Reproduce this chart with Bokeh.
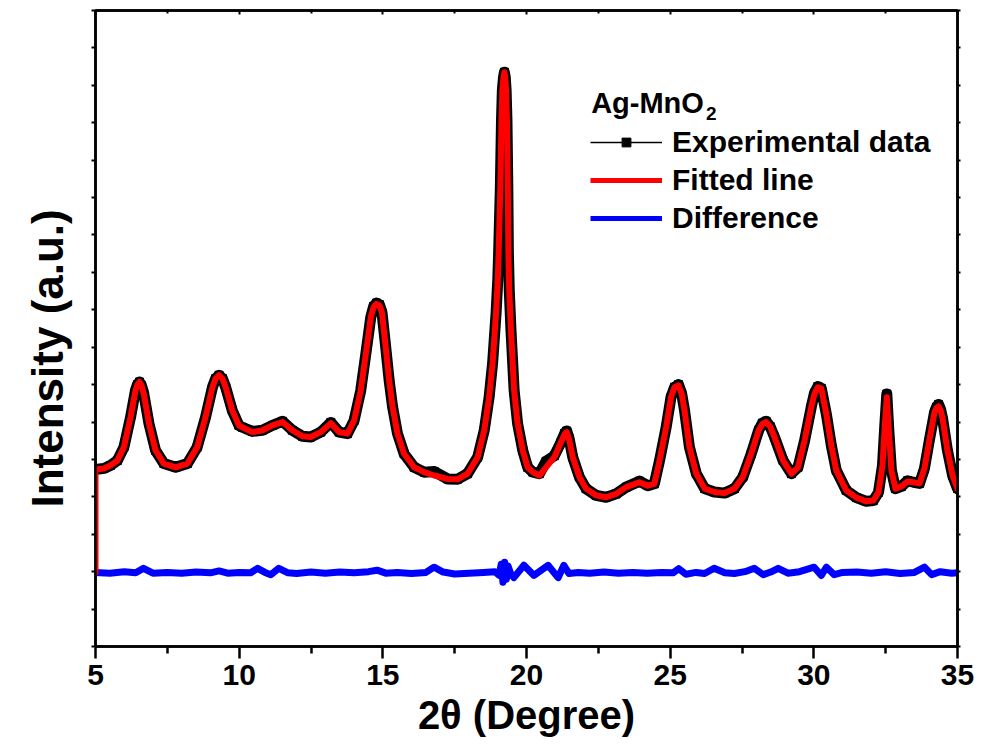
from bokeh.plotting import figure
from bokeh.models import Range1d, LinearAxis, FixedTicker, Legend, LegendItem, Label, Title
from bokeh.embed import file_html
from bokeh.resources import INLINE

# ---------------- data ----------------
two_theta = [5.00, 5.29, 5.52, 5.76, 5.99, 6.22, 6.39, 6.46, 6.53, 6.60,
             6.68, 6.86, 7.09, 7.38, 7.79, 8.20, 8.54, 8.83, 9.07, 9.18,
             9.30, 9.42, 9.53, 9.76, 9.99, 10.11, 10.46, 10.81, 11.16, 11.51,
             11.85, 12.20, 12.49, 12.84, 13.19, 13.48, 13.77, 14.00, 14.23, 14.41,
             14.58, 14.68, 14.78, 14.88, 14.97, 15.10, 15.22, 15.34, 15.51, 15.74,
             16.09, 16.44, 16.79, 17.25, 17.60, 17.95, 18.30, 18.53, 18.70, 18.82,
             18.94, 19.00, 19.03, 19.09, 19.13, 19.16, 19.20, 19.23, 19.26, 19.29,
             19.32, 19.35, 19.37, 19.40, 19.46, 19.57, 19.69, 19.87, 20.04, 20.22,
             20.45, 20.68, 20.97, 21.20, 21.33, 21.40, 21.48, 21.61, 21.84, 22.07,
             22.42, 22.77, 23.12, 23.47, 23.93, 24.22, 24.45, 24.63, 24.86, 25.03,
             25.15, 25.29, 25.40, 25.50, 25.67, 25.91, 26.20, 26.54, 26.89, 27.24,
             27.53, 27.82, 28.08, 28.21, 28.34, 28.48, 28.63, 28.93, 29.22, 29.45,
             29.68, 29.91, 30.02, 30.14, 30.26, 30.44, 30.61, 30.78, 31.13, 31.48,
             31.83, 32.07, 32.25, 32.39, 32.47, 32.54, 32.61, 32.70, 32.84, 33.05,
             33.26, 33.47, 33.68, 33.85, 34.02, 34.20, 34.27, 34.34, 34.41, 34.48,
             34.65, 34.83, 35.00]

fit_y = [4.73, 4.76, 4.84, 4.97, 5.33, 6.13, 6.84, 7.00, 7.07, 6.98,
         6.76, 5.96, 5.24, 4.89, 4.79, 4.89, 5.33, 6.13, 6.93, 7.16,
         7.25, 7.16, 6.93, 6.31, 5.91, 5.86, 5.73, 5.78, 5.91, 6.00,
         5.78, 5.62, 5.60, 5.73, 5.97, 5.73, 5.69, 6.04, 6.84, 7.83,
         8.80, 9.07, 9.16, 9.12, 8.93, 8.00, 7.11, 6.40, 5.69, 5.15,
         4.79, 4.66, 4.57, 4.48, 4.47, 4.62, 5.06, 5.78, 6.67, 7.57,
         8.90, 9.79, 10.51, 12.27, 14.06, 14.87, 15.22, 15.35, 15.22, 14.87,
         14.06, 12.27, 10.51, 9.52, 8.45, 6.84, 5.96, 5.24, 4.79, 4.66,
         4.57, 4.79, 5.06, 5.46, 5.68, 5.73, 5.55, 5.06, 4.53, 4.22,
         4.04, 3.99, 4.08, 4.26, 4.39, 4.30, 4.35, 4.97, 5.86, 6.67,
         6.93, 6.98, 6.76, 6.31, 5.33, 4.62, 4.22, 4.13, 4.10, 4.22,
         4.53, 5.15, 5.78, 5.95, 6.00, 5.88, 5.60, 4.97, 4.62, 4.79,
         5.51, 6.40, 6.75, 6.93, 6.90, 6.19, 5.37, 4.71, 4.17, 3.98,
         3.88, 3.90, 4.12, 4.84, 5.91, 6.66, 5.78, 4.71, 4.22, 4.28,
         4.41, 4.39, 4.36, 4.76, 5.51, 6.26, 6.38, 6.42, 6.32, 6.10,
         5.24, 4.57, 4.22]

exp_y = [4.73, 4.76, 4.84, 4.97, 5.33, 6.13, 6.84, 7.00, 7.07, 6.98,
         6.76, 5.96, 5.24, 4.89, 4.79, 4.89, 5.33, 6.13, 6.93, 7.16,
         7.25, 7.16, 6.93, 6.31, 5.91, 5.86, 5.75, 5.78, 5.91, 6.02,
         5.78, 5.62, 5.60, 5.73, 5.99, 5.73, 5.69, 6.04, 6.84, 7.83,
         8.80, 9.09, 9.18, 9.14, 8.93, 8.00, 7.11, 6.40, 5.69, 5.15,
         4.79, 4.66, 4.68, 4.48, 4.47, 4.62, 5.06, 5.78, 6.67, 7.57,
         8.90, 9.79, 10.51, 12.27, 14.06, 14.87, 15.22, 15.35, 15.22, 14.87,
         14.06, 12.27, 10.51, 9.52, 8.45, 6.84, 5.96, 5.24, 4.79, 4.66,
         4.62, 4.95, 5.10, 5.46, 5.70, 5.76, 5.57, 5.06, 4.53, 4.22,
         4.04, 3.99, 4.08, 4.26, 4.42, 4.30, 4.35, 4.97, 5.86, 6.67,
         6.93, 7.00, 6.76, 6.31, 5.33, 4.62, 4.22, 4.13, 4.10, 4.22,
         4.53, 5.15, 5.78, 5.97, 6.02, 5.88, 5.60, 4.97, 4.62, 4.79,
         5.51, 6.40, 6.77, 6.95, 6.90, 6.19, 5.37, 4.71, 4.17, 3.98,
         3.88, 3.90, 4.12, 4.84, 5.91, 6.75, 5.78, 4.71, 4.22, 4.28,
         4.43, 4.39, 4.36, 4.76, 5.51, 6.26, 6.40, 6.47, 6.34, 6.10,
         5.24, 4.57, 4.22]

# the fitted curve starts from the difference baseline at 5 degrees
fit_start_x = [5.00]
fit_start_y = [1.98]

diff_x = [5.0, 5.5, 6.0, 6.4, 6.67, 7.0, 7.5, 8.0, 8.5, 9.0,
          9.3, 9.6, 10.0, 10.4, 10.64, 10.9, 11.1, 11.38, 11.7, 12.0,
          12.5, 13.0, 13.5, 14.0, 14.5, 14.8, 15.1, 15.5, 16.0, 16.5,
          16.78, 17.1, 17.5, 18.0, 18.5, 18.9, 19.05, 19.12, 19.18, 19.24,
          19.3, 19.36, 19.45, 19.56, 19.91, 20.26, 20.75, 21.1, 21.3, 21.48,
          21.8, 22.2, 22.7, 23.2, 23.7, 24.2, 24.7, 25.1, 25.3, 25.55,
          25.9, 26.2, 26.53, 26.9, 27.23, 27.6, 27.93, 28.24, 28.5, 28.76,
          29.1, 29.5, 30.01, 30.26, 30.44, 30.71, 31.0, 31.5, 32.0, 32.5,
          33.0, 33.5, 33.85, 34.1, 34.4, 34.8, 35.0]

diff_y = [1.98, 1.96, 2.00, 1.97, 2.09, 1.96, 1.98, 1.96, 1.99, 1.97,
          2.02, 1.96, 1.98, 1.97, 2.09, 1.98, 1.92, 2.09, 1.97, 1.95,
          1.99, 1.96, 1.99, 1.97, 2.00, 2.04, 1.96, 1.98, 1.95, 1.98,
          2.12, 1.99, 1.94, 1.96, 1.98, 2.00, 1.90, 2.20, 1.72, 2.25,
          1.80, 2.15, 1.95, 1.84, 2.17, 1.90, 2.17, 1.84, 2.17, 1.95,
          1.98, 1.96, 1.99, 1.96, 1.98, 1.96, 1.98, 1.97, 2.08, 1.93,
          1.98, 1.95, 2.09, 1.97, 1.95, 2.00, 2.09, 1.92, 1.99, 2.09,
          1.96, 2.00, 2.12, 1.90, 2.12, 1.92, 1.98, 1.99, 1.96, 2.00,
          1.95, 1.98, 2.12, 1.92, 2.00, 1.96, 1.97]

x_major = [5, 10, 15, 20, 25, 30, 35]
x_minor = [7.5, 12.5, 17.5, 22.5, 27.5, 32.5]
y_ticks = list(range(0, 18))

legend_title = "Ag-MnO"
legend_title_sub = "2"
series_labels = ["Experimental data", "Fitted line", "Difference"]

FONT = "Liberation Sans"

# ---------------- figure ----------------
p = figure(width=981, height=756, x_range=Range1d(5, 35), y_range=Range1d(0, 17),
           output_backend="svg", toolbar_location=None,
           min_border_left=95, min_border_right=24, min_border_top=10, min_border_bottom=110)
p.grid.visible = False
p.outline_line_color = "black"
p.outline_line_width = 2.5
p.background_fill_color = "white"
p.border_fill_color = "white"

# bottom axis
xa = p.xaxis[0]
xa.ticker = FixedTicker(ticks=x_major, minor_ticks=x_minor)
xa.axis_line_width = 2.5
xa.axis_line_color = "black"
xa.major_tick_line_width = 2.5
xa.minor_tick_line_width = 2.5
xa.major_tick_line_color = "black"
xa.minor_tick_line_color = "black"
xa.major_tick_out = 12
xa.major_tick_in = 0
xa.minor_tick_out = 7
xa.minor_tick_in = 0
xa.major_label_text_font = FONT
xa.major_label_text_font_style = "bold"
xa.major_label_text_font_size = "30px"
xa.major_label_text_color = "black"
xa.major_label_standoff = 6
xa.axis_label = "2θ (Degree)"
xa.axis_label_text_font = FONT
xa.axis_label_text_font_style = "bold"
xa.axis_label_text_font_size = "40px"
xa.axis_label_text_color = "black"
xa.axis_label_standoff = 5

# left axis
ya = p.yaxis[0]
ya.ticker = FixedTicker(ticks=y_ticks)
ya.axis_line_width = 2.5
ya.axis_line_color = "black"
ya.major_tick_line_width = 2
ya.major_tick_line_color = "black"
ya.major_tick_out = 4
ya.major_tick_in = 0
ya.minor_tick_line_color = None
ya.major_label_text_color = None
ya.major_label_text_font_size = "1px"
ya.major_label_standoff = 0

# top axis
ta = LinearAxis(ticker=FixedTicker(ticks=x_major, minor_ticks=x_minor))
ta.axis_line_width = 2.5
ta.major_tick_line_width = 2
ta.minor_tick_line_width = 2
ta.major_tick_in = 4
ta.major_tick_out = 0
ta.minor_tick_in = 3
ta.minor_tick_out = 0
ta.major_label_text_color = None
ta.major_label_text_font_size = "1px"
p.add_layout(ta, "above")

# right axis
ra = LinearAxis(ticker=FixedTicker(ticks=y_ticks))
ra.axis_line_width = 2.5
ra.major_tick_line_width = 2
ra.major_tick_out = 3
ra.major_tick_in = 0
ra.minor_tick_line_color = None
ra.major_label_text_color = None
ra.major_label_text_font_size = "1px"
p.add_layout(ra, "right")

# y axis title (placed lower, as in the reference)
p.add_layout(Title(text="Intensity (a.u.)", align="left", vertical_align="top",
                   offset=139, standoff=36,
                   text_font=FONT, text_font_style="bold", text_font_size="44px",
                   text_color="black"), "left")

# ---------------- data glyphs ----------------
p.line(diff_x, diff_y, line_color="#0000FF", line_width=7, line_join="round", line_cap="round")
p.line(two_theta, exp_y, line_color="black", line_width=11, line_join="round", line_cap="round")
p.scatter(two_theta, exp_y, marker="square", size=8, color="black")
p.line(fit_start_x + two_theta, fit_start_y + fit_y, line_color="#FF0000", line_width=6,
       line_join="round", line_cap="round")

# ---------------- legend (proxy renderers kept outside the visible range) ----------------
hx, hy = [0], [-10]
le1 = p.line(hx, hy, line_color="black", line_width=1.5)
le2 = p.scatter(hx, hy, marker="square", size=8, color="black")
lf1 = p.line(hx, hy, line_color="#FF0000", line_width=5)
ld1 = p.line(hx, hy, line_color="#0000FF", line_width=5)

legend = Legend(items=[LegendItem(label=series_labels[0], renderers=[le1, le2]),
                       LegendItem(label=series_labels[1], renderers=[lf1]),
                       LegendItem(label=series_labels[2], renderers=[ld1])],
                location=(495, 409), glyph_width=72, glyph_height=22, label_height=38,
                spacing=0, padding=0, margin=0, label_standoff=10,
                border_line_color=None, background_fill_alpha=0,
                label_text_font=FONT, label_text_font_style="bold",
                label_text_font_size="30px", label_text_color="black")
p.add_layout(legend)

p.add_layout(Label(x=22.25, y=14.53, text=legend_title, text_font=FONT,
                   text_font_style="bold", text_font_size="29px", text_color="black",
                   text_baseline="alphabetic", text_align="left"))
p.add_layout(Label(x=26.25, y=14.25, text=legend_title_sub, text_font=FONT,
                   text_font_style="bold", text_font_size="19px", text_color="black",
                   text_baseline="alphabetic", text_align="left"))

open("out.html", "w").write(file_html(p, INLINE))
